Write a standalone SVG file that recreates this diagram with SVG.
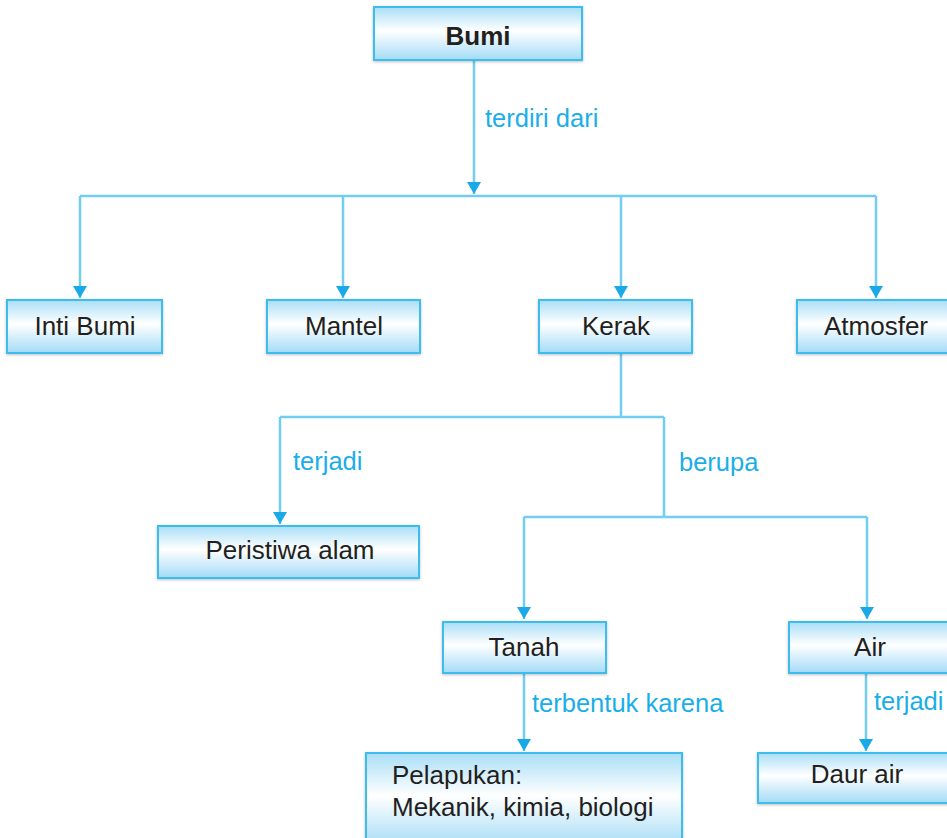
<svg xmlns="http://www.w3.org/2000/svg" width="947" height="838" viewBox="0 0 947 838">
<defs>
<linearGradient id="boxg" x1="0" y1="0" x2="0" y2="1">
<stop offset="0" stop-color="#a9def7"/>
<stop offset="0.45" stop-color="#ffffff"/>
<stop offset="1" stop-color="#a3dbf6"/>
</linearGradient>
<filter id="glow" x="-5%" y="-10%" width="110%" height="125%">
<feGaussianBlur in="SourceAlpha" stdDeviation="1.5"/>
<feOffset dy="1"/>
<feComponentTransfer><feFuncA type="linear" slope="0.25"/></feComponentTransfer>
<feMerge><feMergeNode/><feMergeNode in="SourceGraphic"/></feMerge>
</filter>
<marker id="arr" markerUnits="userSpaceOnUse" markerWidth="13" markerHeight="14" refX="12" refY="7" orient="auto" viewBox="0 0 13 14">
<path d="M0,0 L12,7 L0,14 Z" fill="#1aa9e6"/>
</marker>
</defs>
<style>
.box{fill:url(#boxg);stroke:#3cbcee;stroke-width:2;filter:url(#glow)}
.t{font-family:"Liberation Sans",Arial,sans-serif;font-size:26px;fill:#231f20;text-anchor:middle}
.tl{font-family:"Liberation Sans",Arial,sans-serif;font-size:26px;fill:#231f20}
.b{font-weight:bold}
.lab{font-family:"Liberation Sans",Arial,sans-serif;font-size:25.5px;fill:#1aaee8}
.c{fill:none;stroke:#72cdf2;stroke-width:2.5}
.ca{fill:none;stroke:#72cdf2;stroke-width:2.5;marker-end:url(#arr)}
</style>
<rect width="947" height="838" fill="#ffffff"/>
<g id="connectors">
<line class="ca" x1="474" y1="60" x2="474" y2="194"/>
<line class="c" x1="80" y1="196" x2="876" y2="196"/>
<line class="ca" x1="80" y1="196" x2="80" y2="298"/>
<line class="ca" x1="343" y1="196" x2="343" y2="298"/>
<line class="ca" x1="621" y1="196" x2="621" y2="298"/>
<line class="ca" x1="876" y1="196" x2="876" y2="298"/>
<line class="c" x1="621" y1="353" x2="621" y2="417"/>
<line class="c" x1="280" y1="417" x2="664" y2="417"/>
<line class="ca" x1="280" y1="417" x2="280" y2="524"/>
<line class="c" x1="664" y1="417" x2="664" y2="517"/>
<line class="c" x1="524" y1="517" x2="867" y2="517"/>
<line class="ca" x1="524" y1="517" x2="524" y2="619"/>
<line class="ca" x1="867" y1="517" x2="867" y2="619"/>
<line class="ca" x1="524" y1="673" x2="524" y2="751"/>
<line class="ca" x1="866" y1="673" x2="866" y2="751"/>
<text class="lab" x="485" y="127">terdiri dari</text>
<text class="lab" x="293" y="470">terjadi</text>
<text class="lab" x="679" y="471">berupa</text>
<text class="lab" x="532" y="712">terbentuk karena</text>
<text class="lab" x="874" y="710">terjadi</text>
</g>
<g id="bumi"><rect class="box" x="374" y="7" width="208" height="53"/><text class="t b" x="478" y="45">Bumi</text></g>
<g id="inti-bumi"><rect class="box" x="7" y="300" width="155" height="53"/><text class="t" x="85" y="335">Inti Bumi</text></g>
<g id="mantel"><rect class="box" x="267" y="300" width="153" height="53"/><text class="t" x="344" y="335">Mantel</text></g>
<g id="kerak"><rect class="box" x="539" y="300" width="153" height="53"/><text class="t" x="616" y="335">Kerak</text></g>
<g id="atmosfer"><rect class="box" x="797" y="300" width="160" height="53"/><text class="t" x="876" y="335">Atmosfer</text></g>
<g id="peristiwa-alam"><rect class="box" x="158" y="526" width="261" height="52"/><text class="t" x="290" y="559">Peristiwa alam</text></g>
<g id="tanah"><rect class="box" x="443" y="622" width="163" height="51"/><text class="t" x="524" y="656">Tanah</text></g>
<g id="air"><rect class="box" x="789" y="622" width="170" height="51"/><text class="t" x="870" y="656">Air</text></g>
<g id="daur-air"><rect class="box" x="758" y="753" width="200" height="50"/><text class="t" x="857" y="783">Daur air</text></g>
<g id="pelapukan"><rect class="box" x="366" y="753" width="316" height="95"/><text class="tl" x="392" y="784">Pelapukan:</text><text class="tl" x="392" y="816">Mekanik, kimia, biologi</text></g>
</svg>
